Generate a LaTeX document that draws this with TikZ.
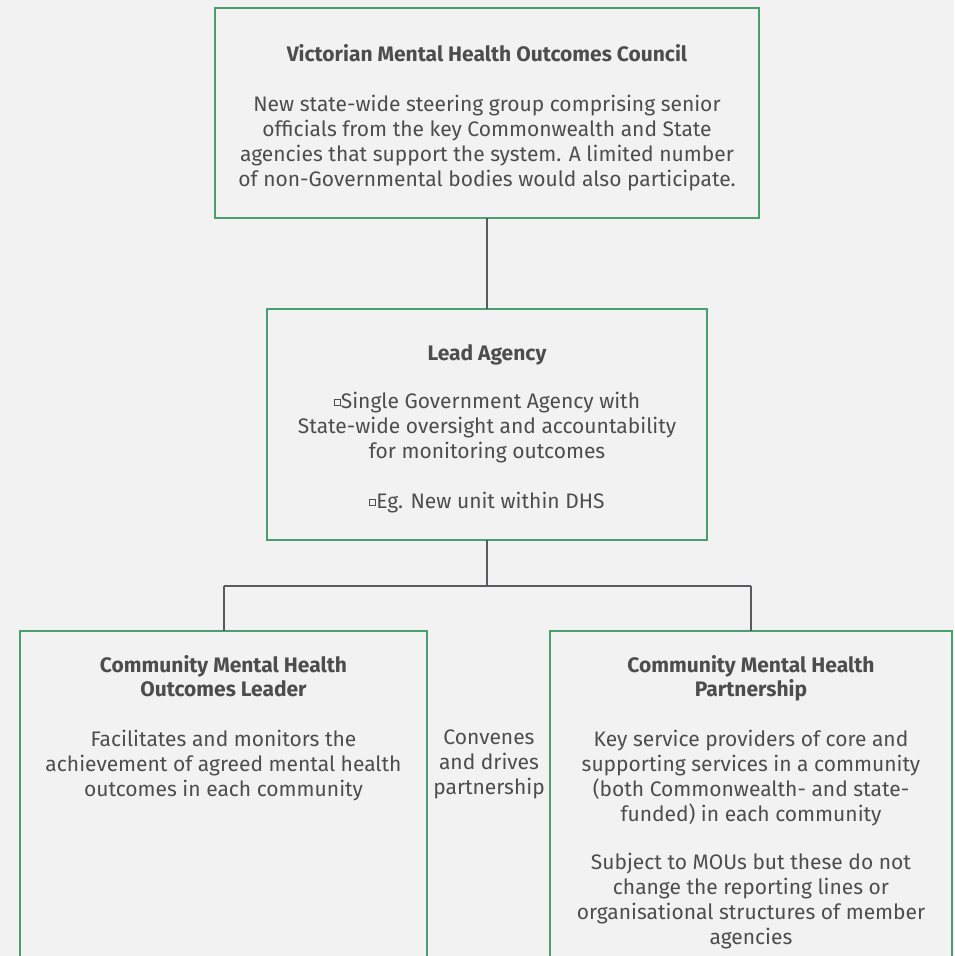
\documentclass[tikz,border=0pt]{standalone}
\usepackage{fontspec}
\setmainfont{Fira Sans}
\definecolor{bg}{HTML}{F2F2F2}
\definecolor{boxline}{HTML}{4A9E72}
\definecolor{linkline}{HTML}{5A5A5E}
\definecolor{ink}{HTML}{4D4D4D}
% small hollow square used as a bullet
\newcommand{\sqbullet}{{\fboxsep=0pt\fboxrule=1pt\raisebox{3pt}{\fbox{\phantom{\rule{5pt}{5pt}}}}}}
\tikzset{
  panel/.style={draw=boxline, line width=2pt, fill=bg, rectangle, anchor=north west,
    inner sep=0pt, outer sep=0pt},
  paneltext/.style={anchor=north, inner sep=0pt, align=center, text=ink,
    font=\fontsize{21}{25}\selectfont},
  link/.style={draw=linkline, line width=2pt},
}
\begin{document}
\begin{tikzpicture}[x=1pt, y=-1pt]
  \fill[bg] (0,0) rectangle (954,956);
  \useasboundingbox (0,0) rectangle (954,956);

  % boxes
  \node[panel, minimum width=544pt, minimum height=210pt] (council) at (215,8) {};
  \node[panel, minimum width=440pt, minimum height=231pt] (lead) at (267,309) {};
  \node[panel, minimum width=407pt, minimum height=400pt] (leader) at (20,631) {};
  \node[panel, minimum width=402pt, minimum height=400pt] (partner) at (550,631) {};

  % junction points of the tree
  \coordinate (split) at (487,586);
  \coordinate (splitL) at (223.5,586);
  \coordinate (splitR) at (751,586);

  % connectors
  \draw[link] (council.south) -- (lead.north);
  \draw[link] (lead.south) -- (split);
  \draw[link] (splitL) -- (splitR);
  \draw[link] (splitL) -- (splitL |- leader.north);
  \draw[link] (splitR) -- (splitR |- partner.north);

  % texts
  \node[paneltext] (councilT) at (487,44) {\textbf{Victorian Mental Health Outcomes Council}\\[25pt]
    New state-wide steering group comprising senior\\
    officials from the key Commonwealth and State\\
    agencies that support the system. A limited number\\
    of non-Governmental bodies would also participate.};

  \node[paneltext] (leadT) at (487,344) {\textbf{Lead Agency}\\[23pt]
    \sqbullet Single Government Agency with\\
    State-wide oversight and accountability\\
    for monitoring outcomes\\[25pt]
    \sqbullet Eg. New unit within DHS};

  \node[paneltext] (leaderT) at (223.5,655) {\textbf{Community Mental Health}\\[-1pt]
    \textbf{Outcomes Leader}\\[25pt]
    Facilitates and monitors the\\
    achievement of agreed mental health\\
    outcomes in each community};

  \node[paneltext] (partnerT) at (751,655) {\textbf{Community Mental Health}\\[-1pt]
    \textbf{Partnership}\\[25pt]
    Key service providers of core and\\
    supporting services in a community\\
    (both Commonwealth- and state-\\
    funded) in each community\\[23pt]
    Subject to MOUs but these do not\\
    change the reporting lines or\\
    organisational structures of member\\
    agencies};

  \node[paneltext] (convenes) at (489,730) {Convenes\\ and drives\\ partnership};
\end{tikzpicture}
\end{document}
